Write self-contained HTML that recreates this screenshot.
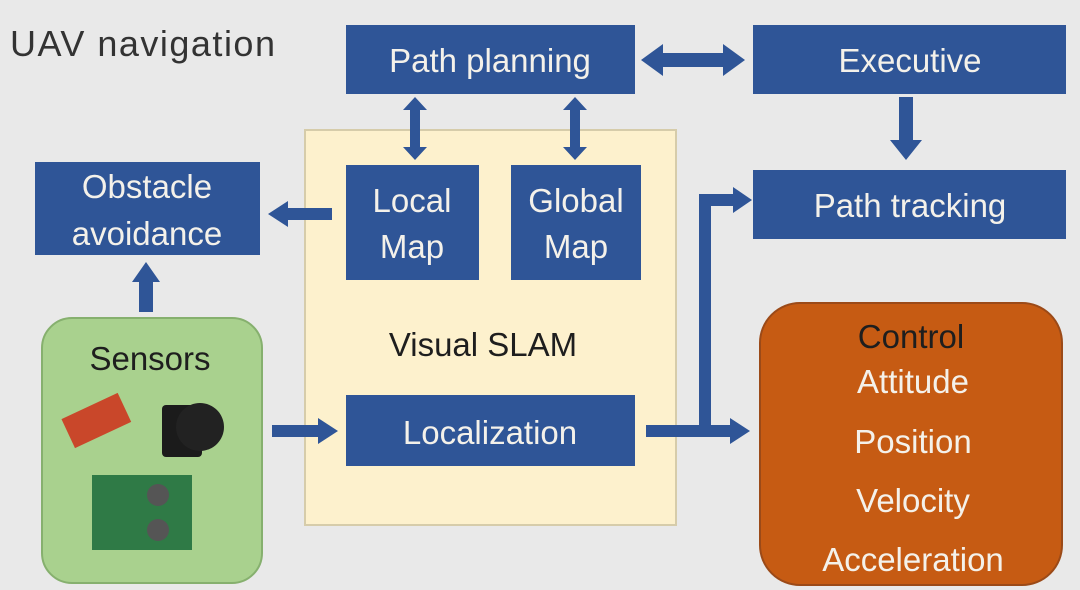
<!DOCTYPE html>
<html><head><style>
html,body{margin:0;padding:0;background:#e8e8e8;}
svg{display:block;font-family:"Liberation Sans",sans-serif;}
</style></head><body>
<svg width="1080" height="590" viewBox="0 0 1080 590">
<rect width="1080" height="590" fill="#e9e9e9"/>
<text x="10" y="56" font-size="36" letter-spacing="1.5" fill="#333">UAV navigation</text>
<g fill="#2f5597">
<rect x="346" y="25" width="289" height="69"/>
<rect x="753" y="25" width="313" height="69"/>
<rect x="753" y="170" width="313" height="69"/>
<rect x="35" y="162" width="225" height="93"/>
</g>
<rect x="305" y="130" width="371" height="395" fill="#fdf1cd" stroke="#d6ccaa" stroke-width="2"/>
<g fill="#2f5597">
<rect x="346" y="165" width="133" height="115"/>
<rect x="511" y="165" width="130" height="115"/>
<rect x="346" y="395" width="289" height="71"/>
</g>
<rect x="42" y="318" width="220" height="265" rx="30" fill="#a9d18e" stroke="#86b06e" stroke-width="2"/>
<rect x="760" y="303" width="302" height="282" rx="40" fill="#c65b13" stroke="#9b4a18" stroke-width="2"/>
<g transform="rotate(-25 95 420)"><rect x="65" y="405" width="62" height="32" fill="#c9472a"/></g>
<rect x="162" y="405" width="40" height="52" fill="#1b1b1b" rx="4"/>
<circle cx="200" cy="427" r="24" fill="#222"/>
<rect x="92" y="475" width="100" height="75" fill="#2f7a46"/>
<circle cx="158" cy="495" r="11" fill="#555"/><circle cx="158" cy="530" r="11" fill="#555"/>
<g fill="#2f5597" stroke="none">
<polygon points="641,60 663,44 663,53 723,53 723,44 745,60 723,76 723,67 663,67 663,76"/>
<polygon points="415,97 427,110 420,110 420,147 427,147 415,160 403,147 410,147 410,110 403,110"/>
<polygon points="575,97 587,110 580,110 580,147 587,147 575,160 563,147 570,147 570,110 563,110"/>
<polygon points="899,97 913,97 913,140 922,140 906,160 890,140 899,140"/>
<polygon points="332,208 288,208 288,201 268,214 288,227 288,220 332,220"/>
<polygon points="139,312 139,282 132,282 146,262 160,282 153,282 153,312"/>
<polygon points="272,425 318,425 318,418 338,431 318,444 318,437 272,437"/>
<polygon points="646,425 730,425 730,418 750,431 730,444 730,437 646,437"/>
<polygon points="699,431 699,194 733,194 733,187 752,200 733,213 733,206 711,206 711,431"/>
</g>
<g fill="#f4f1ea" font-size="33" text-anchor="middle">
<text x="490" y="72">Path planning</text>
<text x="910" y="72">Executive</text>
<text x="910" y="217">Path tracking</text>
<text x="147" y="198">Obstacle</text>
<text x="147" y="245">avoidance</text>
<text x="412" y="212">Local</text>
<text x="412" y="258">Map</text>
<text x="576" y="212">Global</text>
<text x="576" y="258">Map</text>
<text x="490" y="444">Localization</text>
<text x="913" y="393">Attitude</text>
<text x="913" y="453">Position</text>
<text x="913" y="512">Velocity</text>
<text x="913" y="571">Acceleration</text>
</g>
<g fill="#1e1e1e" font-size="33" text-anchor="middle">
<text x="483" y="356">Visual SLAM</text>
<text x="150" y="370">Sensors</text>
<text x="911" y="348">Control</text>
</g>
</svg>
</body></html>
